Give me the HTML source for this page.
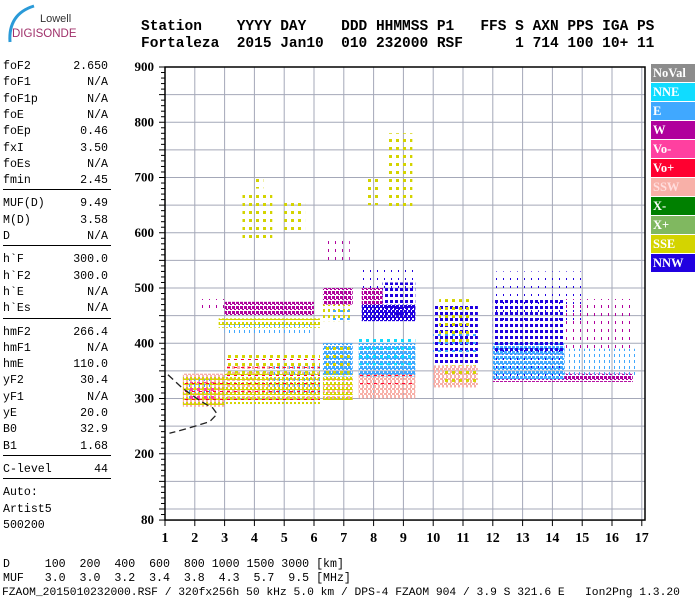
<!DOCTYPE html>
<html><head><meta charset="utf-8"><style>
body{margin:0;background:#fff;}
#root{position:relative;width:700px;height:600px;overflow:hidden;background:#fff;font-family:"Liberation Mono",monospace;}
.hdr{position:absolute;left:141px;font:bold 14.5px "Liberation Mono",monospace;white-space:pre;color:#000;}
.lp{position:absolute;left:3px;width:105px;font:11.6px "Liberation Mono",monospace;color:#000;}
.lp .r{position:absolute;left:0;width:105px;height:16px;}
.lp .r span{position:absolute;right:0;top:0;}
.sep{position:absolute;left:0;width:108px;border-top:1px solid #000;}
.bt{position:absolute;left:3px;font:11.6px "Liberation Mono",monospace;white-space:pre;}
</style></head><body>
<div id="root">
<svg style="position:absolute;left:0;top:0" width="80" height="50">
<path d="M10 42 Q8 14 34 6" stroke="#2a9ad8" stroke-width="3" fill="none"/>
<text x="40" y="22" font-family="Liberation Sans" font-size="11" fill="#333">Lowell</text>
<text x="12" y="37" font-family="Liberation Sans" font-size="11.5" fill="#a0306a">DIGISONDE</text>
</svg>
<div class="hdr" style="top:19px">Station    YYYY DAY    DDD HHMMSS P1   FFS S AXN PPS IGA PS</div>
<div class="hdr" style="top:36px">Fortaleza  2015 Jan10  010 232000 RSF      1 714 100 10+ 11</div>
<div class="lp" id="lp"></div>
<svg id="chart" style="position:absolute;left:0;top:0" width="700" height="600"></svg>
<div class="bt" style="top:558px">D     100  200  400  600  800 1000 1500 3000 [km]</div>
<div class="bt" style="top:572px">MUF   3.0  3.0  3.2  3.4  3.8  4.3  5.7  9.5 [MHz]</div>
<div class="bt" style="top:587px;left:2px;font-size:11.3px">FZAOM_2015010232000.RSF / 320fx256h 50 kHz 5.0 km / DPS-4 FZAOM 904 / 3.9 S 321.6 E   Ion2Png 1.3.20</div>
</div>
<script>
// ---- panel data ----
const paramNames=["foF2","foF1","foF1p","foE","foEp","fxI","foEs","fmin","|","MUF(D)","M(D)","D","|","h`F","h`F2","h`E","h`Es","|","hmF2","hmF1","hmE","yF2","yF1","yE","B0","B1","|","C-level","|","Auto:","Artist5","500200"];
const paramVals=["2.650","N/A","N/A","N/A","0.46","3.50","N/A","2.45","","9.49","3.58","N/A","","300.0","300.0","N/A","N/A","","266.4","N/A","110.0","30.4","N/A","20.0","32.9","1.68","","44","","","",""];
// ---- chart data ----
const xTicks=[1,2,3,4,5,6,7,8,9,10,11,12,13,14,15,16,17];
const yTicks=[900,800,700,600,500,400,300,200,80];
const legendNames=["NoVal","NNE","E","W","Vo-","Vo+","SSW","X-","X+","SSE","NNW"];
const legendColors=["#8c8c8c","#10dcff","#40a8ff","#b0009c","#ff40a0","#ff0030","#f8b0a8","#008000","#80b860","#d4d400","#2000e0"];
const legendText=["#fff","#fff","#fff","#fff","#fff","#fff","#fdd","#fff","#fff","#fff","#fff"];
// echo regions: freq start, freq end, height low, height high
const blkF0=[1.6,1.6,1.7,1.6,1.8, 3.0,3.0,4.5,3.0,3.0, 2.8,3.0, 3.0,2.2, 3.6,5.0,4.0, 6.3,6.3,6.3,6.3,6.3,6.5,6.3,6.4, 7.5,7.5,7.5,7.5,7.5,7.6,7.6,8.3,7.6,8.4,7.8, 10.0,10.0,10.0,10.2,10.3, 12.0,12.0,14.4,12.0,14.4,12.0,12.0];
const blkF1=[3.0,3.0,2.6,3.0,2.8, 6.2,6.2,6.2,6.2,6.2, 6.2,6.0, 6.0,3.0, 4.6,5.7,4.3, 7.3,7.3,7.3,7.2,7.3,7.2,7.3,7.2, 9.4,9.4,9.4,9.4,9.4,9.4,8.3,9.4,9.4,9.3,8.2, 11.5,11.5,11.5,11.3,11.5, 16.7,14.4,16.8,14.4,16.8,15.0,14.4];
const blkH0=[285,285,300,290,290, 300,290,310,290,345, 428,415, 450,460, 590,600,680, 300,295,340,345,440,440,470,550, 300,315,320,340,360,440,470,450,500,640,650, 320,360,380,400,330, 330,335,340,380,390,440,340];
const blkH1=[345,340,335,340,330, 360,345,360,380,385, 445,440, 475,480, 670,660,700, 345,345,400,395,470,460,500,585, 330,345,345,400,410,470,500,510,540,780,700, 360,470,420,480,360, 345,400,390,480,480,530,390];
const blkCls=["SSW","SSE","E","Vo+","Vo-", "SSW","SSE","E","Vo+","SSE", "SSE","E", "W","W", "SSE","SSE","SSE", "SSW","SSE","E","SSE","SSE","E","W","W", "SSW","SSW","Vo+","E","NNE","NNW","W","NNW","NNW","SSE","SSE", "SSW","NNW","E","SSE","SSE", "W","E","E","NNW","W","NNW","NNW"];
const blkDen=[3,3,2,1,1, 2,3,2,1,1, 3,2, 3,1, 1,1,1, 2,3,3,1,2,1,3,1, 3,3,1,3,1,3,3,2,1,1,1, 3,2,1,1,1, 3,3,2,2,1,1,1];
// profile curve
const profF=[1.1,1.6,2.2,2.6,2.75,2.5,1.7,1.15];
const profH=[343,318,295,283,272,258,245,237];

const NS="http://www.w3.org/2000/svg";
const X0=165,XS=29.8,Y0=67,YS=0.5525;
function xs(f){return X0+(f-1)*XS;}
function ys(h){return Y0+(900-h)*YS;}
const svg=document.getElementById('chart');
function mk(t,a,p){const e=document.createElementNS(NS,t);for(const k in a)e.setAttribute(k,a[k]);(p||svg).appendChild(e);return e;}

// panel
const lp=document.getElementById('lp');
let yy=60;
paramNames.forEach((n,i)=>{
  if(n==="|"){const s=document.createElement('div');s.className='sep';s.style.top=(yy+4-60+55)+'px';
  
  
  lp.appendChild(s);yy+=7;return;}
  const r=document.createElement('div');r.className='r';r.style.top=(yy)+'px';r.textContent=n;
  
  
  if(paramVals[i]){const v=document.createElement('span');v.textContent=paramVals[i];r.appendChild(v);}
  lp.appendChild(r);yy+=16.3;
});

// grid
const grid=mk('g',{});


for(const f of xTicks){ if(f>1) mk('line',{x1:xs(f),x2:xs(f),y1:ys(900),y2:ys(80),stroke:'#a4a8b8','stroke-width':1},grid);}
for(let h=850;h>=100;h-=50){ mk('line',{x1:X0,x2:645,y1:ys(h),y2:ys(h),stroke:'#a4a8b8','stroke-width':1},grid);}

// patterns
const defs=mk('defs',{});
const tiles=[7,5,4];
function pid(nm,d){return 'p-'+nm.replace(/[^A-Za-z]/g,'')+(nm.includes('+')?'P':nm.includes('-')?'M':'')+'-'+d;}
legendNames.forEach((nm,ci)=>{
  for(let d=1;d<=3;d++){
    const t=tiles[d-1];
    const p=mk('pattern',{id:pid(nm,d),patternUnits:'userSpaceOnUse',width:t,height:t+1},defs);
    const ox=(ci*2)%t, oy=(ci*3)%(t+1);
    mk('rect',{x:ox,y:oy,width:3,height:3,fill:legendColors[ci]},p);
    if(d===3) mk('rect',{x:(ox+2)%t,y:(oy+2)%(t+1),width:3,height:3,fill:legendColors[ci]},p);
  }
});

// echoes
const echoes=mk('g',{});


for(let i=0;i<blkF0.length;i++){
  const r=mk('rect',{x:xs(blkF0[i]),y:ys(blkH1[i]),width:xs(blkF1[i])-xs(blkF0[i]),height:ys(blkH0[i])-ys(blkH1[i]),fill:'url(#'+pid(blkCls[i],blkDen[i])+')'},echoes);
  
  
}

// profile
let d='';profF.forEach((f,i)=>{d+=(i?'L':'M')+xs(f)+' '+ys(profH[i]);});
const pr=mk('path',{d:d,stroke:'#222','stroke-width':1.3,fill:'none','stroke-dasharray':'7 4'});



// frame
const fr=mk('rect',{x:X0,y:ys(900),width:645-X0,height:ys(80)-ys(900),fill:'none',stroke:'#000','stroke-width':1.5});



// y axis ticks
const yax=mk('g',{});


for(let h=80;h<=900;h+=10){const maj=(h%50===0)||h===80;mk('line',{x1:X0-(maj?6:4),x2:X0,y1:ys(h),y2:ys(h),stroke:'#000'},yax);}
yTicks.forEach(h=>{const t=mk('text',{x:154,y:ys(h)+4,'text-anchor':'end','font-family':'Liberation Serif','font-weight':'bold','font-size':13},yax);t.textContent=h;
  
  });
// x axis
const xax=mk('g',{});


xTicks.forEach(f=>{mk('line',{x1:xs(f),x2:xs(f),y1:ys(80),y2:ys(80)+6,stroke:'#000'},xax);
  const t=mk('text',{x:xs(f),y:542,'text-anchor':'middle','font-family':'Liberation Serif','font-weight':'bold','font-size':14},xax);t.textContent=f;
  
  });

// legend
const lg=mk('g',{});


legendNames.forEach((n,i)=>{
  const y=64+i*19;
  const r=mk('rect',{x:651,y:y,width:44,height:18,fill:legendColors[i]},lg);
  
  
  const t=mk('text',{x:653,y:y+13,'font-family':'Liberation Serif','font-weight':'bold','font-size':12.5,fill:legendText[i]},lg);t.textContent=n;
  
  
});
</script>
</body></html>
